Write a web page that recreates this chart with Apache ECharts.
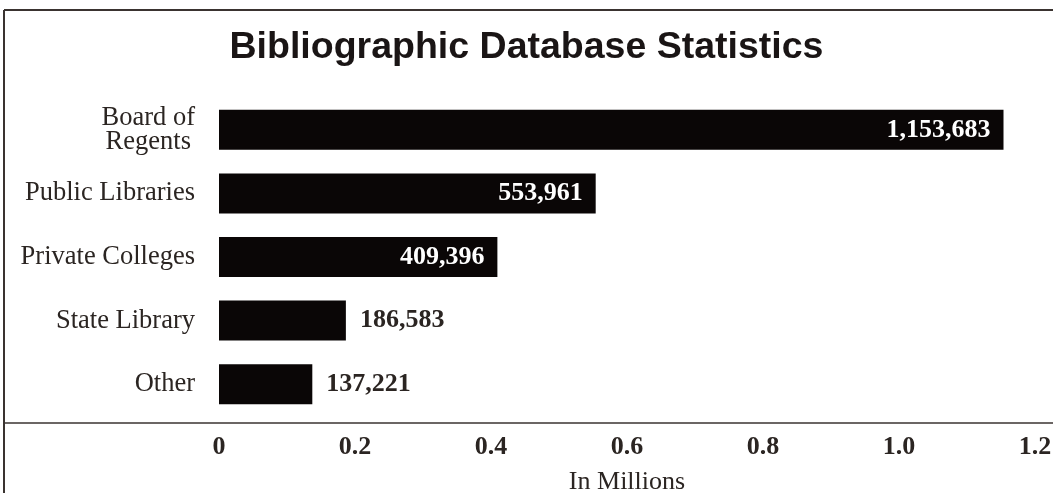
<!DOCTYPE html>
<html>
<head>
<meta charset="utf-8">
<script src="https://cdn.jsdelivr.net/npm/echarts@6/dist/echarts.min.js"></script>
<style>html,body{margin:0;padding:0;background:#fff;}#c{width:1053px;height:493px;}</style>
</head>
<body>
<div id="c"></div>
<script>
const titleText = 'Bibliographic Database Statistics';
const categories = ['Board of\nRegents', 'Public Libraries', 'Private Colleges', 'State Library', 'Other'];
const counts = [1153683, 553961, 409396, 186583, 137221];
const tickValues = [0, 0.2, 0.4, 0.6, 0.8, 1.0, 1.2];
const axisName = 'In Millions';

const ink = '#2b2522';
const serif = '"Liberation Serif", "Times New Roman", serif';
const chart = echarts.init(document.getElementById('c'));
const fmt = n => n.toLocaleString('en-US');

const data = counts.map(v => {
  const inside = v > 300000;
  return {
    value: v / 1e6,
    label: {
      show: true,
      position: inside ? 'insideRight' : 'right',
      distance: inside ? 13 : 14,
      color: inside ? '#ffffff' : ink,
      fontFamily: serif,
      fontWeight: 'bold',
      fontSize: 26,
      formatter: () => fmt(v)
    }
  };
});

chart.setOption({
  backgroundColor: '#fff',
  animation: false,
  title: {
    text: titleText,
    left: 'center',
    top: 24,
    textStyle: { fontFamily: '"Liberation Sans", Arial, sans-serif', fontWeight: 'bold', fontSize: 37.5, color: '#1a1515' }
  },
  grid: { left: 219, right: 18, top: 98, height: 318, outerBoundsMode: 'none', containLabel: false },
  xAxis: {
    type: 'value',
    min: 0, max: 1.2, interval: 0.2,
    offset: 7,
    axisLine: { show: false },
    axisTick: { show: false },
    splitLine: { show: false },
    axisLabel: {
      margin: 11,
      fontFamily: serif, fontWeight: 'bold', fontSize: 26, color: ink,
      customValues: tickValues,
      formatter: v => v === 0 ? '0' : v.toFixed(1)
    },
    name: axisName,
    nameLocation: 'middle',
    nameGap: 46,
    nameTextStyle: { fontFamily: serif, fontSize: 26, color: ink }
  },
  yAxis: {
    type: 'category',
    inverse: true,
    data: categories,
    axisLine: { show: false },
    axisTick: { show: false },
    axisLabel: {
      margin: 24,
      fontFamily: serif, fontSize: 26.5, color: ink, lineHeight: 24,
      formatter: v => v.includes('\n') ? v.split('\n').map(s => '{c|' + s + '}').join('\n') : v,
      rich: { c: { fontFamily: serif, fontSize: 26.5, color: ink, align: 'center', lineHeight: 24 } }
    }
  },
  series: [{
    type: 'bar',
    data: data,
    barWidth: 40,
    itemStyle: { color: '#0a0606' }
  }],
  graphic: [
    { type: 'line', shape: { x1: 4, y1: 10, x2: 1053, y2: 10 }, style: { stroke: '#3a3330', lineWidth: 2 } },
    { type: 'line', shape: { x1: 4, y1: 10, x2: 4, y2: 493 }, style: { stroke: '#3a3330', lineWidth: 2 } },
    { type: 'line', shape: { x1: 4, y1: 423, x2: 1053, y2: 423 }, style: { stroke: '#3a3330', lineWidth: 1.5 } }
  ]
});
</script>
</body>
</html>
